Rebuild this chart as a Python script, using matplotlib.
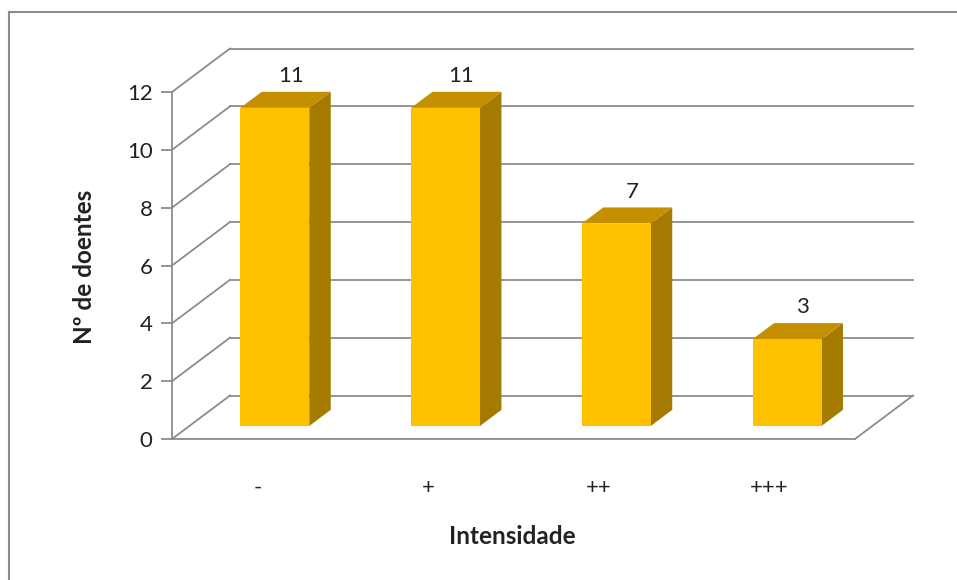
import matplotlib
matplotlib.use("Agg")
import matplotlib.pyplot as plt
from matplotlib.patches import Polygon
from matplotlib.lines import Line2D

categories = ["-", "+", "++", "+++"]
values = [11, 11, 7, 3]
yticks = [0, 2, 4, 6, 8, 10, 12]
ylabel = "Nº de doentes"
xlabel = "Intensidade"

W, H = 957, 580
fig = plt.figure(figsize=(W / 100, H / 100), dpi=100)
plt.rcParams['font.family'] = ['Lato', 'DejaVu Sans']

# front plane axes
L, R, B, T = 172, 855, 439, 92
ax = fig.add_axes([L / W, (H - B) / H, (R - L) / W, (B - T) / H])
ax.set_xlim(0, len(categories))
ax.set_ylim(0, 12)
ax.set_facecolor('none')

# depth vector in data units
px_x = (R - L) / len(categories)
px_y = (B - T) / 12
DX, DY = 58 / px_x, 43.5 / px_y

grid_c = '#8c8c8c'
txt_c = '#222222'
lw = 1.3
fs = 16
fs_lab = 17.5

# back wall gridlines and left wall diagonals
for v in yticks:
    ax.add_line(Line2D([DX, len(categories) + DX], [v + DY, v + DY], color=grid_c, lw=lw, clip_on=False, zorder=1))
    ax.add_line(Line2D([0, DX], [v, v + DY], color=grid_c, lw=lw, clip_on=False, zorder=1))
# floor right edge
ax.add_line(Line2D([len(categories), len(categories) + DX], [0, DY], color=grid_c, lw=lw, clip_on=False, zorder=1))

# bars
bw = 0.404
f0, f1 = 0.30, 0.67
front_c, top_c, side_c = '#FFC000', '#C49000', '#A47A00'
for i, v in enumerate(values):
    xc = i + 0.5
    x0 = xc - bw / 2 + f0 * DX
    x1 = xc + bw / 2 + f0 * DX
    y0 = f0 * DY
    y1 = v + f0 * DY
    ddx, ddy = (f1 - f0) * DX, (f1 - f0) * DY
    ax.add_patch(Polygon([(x1, y0), (x1 + ddx, y0 + ddy), (x1 + ddx, y1 + ddy), (x1, y1)],
                         closed=True, fc=side_c, ec='none', clip_on=False, zorder=3))
    ax.add_patch(Polygon([(x0, y1), (x1, y1), (x1 + ddx, y1 + ddy), (x0 + ddx, y1 + ddy)],
                         closed=True, fc=top_c, ec='none', clip_on=False, zorder=3))
    ax.add_patch(Polygon([(x0, y0), (x1, y0), (x1, y1), (x0, y1)],
                         closed=True, fc=front_c, ec='none', clip_on=False, zorder=4))
    ax.text(xc + (f0 + f1) / 2 * DX + 0.03, v + f1 * DY + 0.2, str(v), ha='center', va='bottom',
            fontsize=fs, color=txt_c, zorder=5)

# axes styling
for s in ['top', 'right']:
    ax.spines[s].set_visible(False)
for s in ['left', 'bottom']:
    ax.spines[s].set_color(grid_c)
    ax.spines[s].set_linewidth(lw)
    ax.spines[s].set_zorder(2)
ax.set_yticks(yticks)
ax.set_yticklabels([str(t) for t in yticks], fontsize=fs, color=txt_c)
ax.tick_params(axis='y', length=8, width=lw, color=grid_c, pad=6)
ax.set_xticks([i + 0.5 for i in range(len(categories))])
ax.set_xticklabels(categories, fontsize=fs, color=txt_c)
ax.tick_params(axis='x', length=0, pad=28)

ax.set_xlabel(xlabel, fontsize=fs_lab, fontweight='bold', color=txt_c)
ax.xaxis.set_label_coords((512 - L) / (R - L), (B - 536) / (B - T), transform=ax.transAxes)
ax.xaxis.label.set_va('center')
ax.set_ylabel(ylabel, fontsize=fs_lab, fontweight='bold', color=txt_c)
ax.yaxis.set_label_coords((85 - L) / (R - L), (B - 267) / (B - T), transform=ax.transAxes)
ax.yaxis.label.set_va('center')

# outer chart border
fig.add_artist(Line2D([9 / W, 1.0], [(H - 12) / H, (H - 12) / H], color='#8c8c8c', lw=1.5, transform=fig.transFigure))
fig.add_artist(Line2D([9 / W, 9 / W], [0, (H - 12) / H], color='#8c8c8c', lw=1.5, transform=fig.transFigure))

fig.savefig('out.png', dpi=100, facecolor='white')
